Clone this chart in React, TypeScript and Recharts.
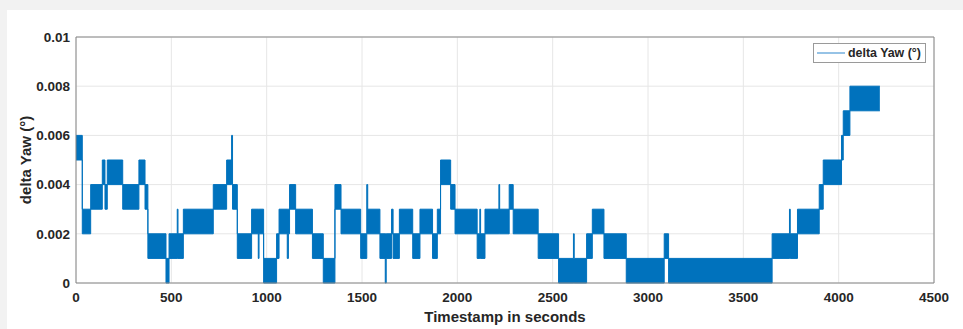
import React from 'react';
import {
  ComposedChart,
  Area,
  XAxis,
  YAxis,
  CartesianGrid,
  ReferenceLine,
} from 'recharts';

// Each segment: the signal toggles between a low and a high quantisation level
// from segStart until the next segStart. The last entry closes the trace.
const segStart = [
  0, 33, 77, 138, 152, 164, 245, 330, 362, 377,
  472, 488, 531, 535, 563, 720, 790, 816, 821, 846,
  921, 956, 960, 984, 1052, 1065, 1108, 1114, 1120, 1152,
  1240, 1297, 1358, 1390, 1493, 1525, 1530, 1594, 1622, 1627,
  1655, 1663, 1696, 1766, 1804, 1870, 1895, 1912, 1965, 1988,
  2104, 2118, 2122, 2145, 2218, 2222, 2272, 2293, 2424, 2531,
  2609, 2613, 2678, 2708, 2769, 2886, 3085, 3108, 3651, 3742,
  3746, 3784, 3898, 3919, 4015, 4024, 4059, 4216,
];
const segLow = [
  0.005, 0.002, 0.003, 0.004, 0.003, 0.004, 0.003, 0.004, 0.003, 0.001,
  0, 0.001, 0.001, 0.001, 0.002, 0.003, 0.004, 0.004, 0.003, 0.001,
  0.002, 0.001, 0.002, 0, 0.001, 0.002, 0.001, 0.002, 0.003, 0.002,
  0.001, 0, 0.003, 0.002, 0.001, 0.002, 0.002, 0.001, 0, 0.001,
  0.002, 0.001, 0.002, 0.001, 0.002, 0.001, 0.002, 0.004, 0.003, 0.002,
  0.001, 0.001, 0.001, 0.002, 0.002, 0.002, 0.003, 0.002, 0.001, 0,
  0, 0, 0.001, 0.002, 0.001, 0, 0.001, 0, 0.001, 0.001,
  0.001, 0.002, 0.003, 0.004, 0.005, 0.006, 0.007, 0.007,
];
const segHigh = [
  0.006, 0.003, 0.004, 0.005, 0.004, 0.005, 0.004, 0.005, 0.004, 0.002,
  0.001, 0.002, 0.003, 0.002, 0.003, 0.004, 0.005, 0.006, 0.004, 0.002,
  0.003, 0.003, 0.003, 0.001, 0.002, 0.003, 0.003, 0.003, 0.004, 0.003,
  0.002, 0.001, 0.004, 0.003, 0.002, 0.004, 0.003, 0.002, 0.002, 0.002,
  0.003, 0.002, 0.003, 0.002, 0.003, 0.002, 0.003, 0.005, 0.004, 0.003,
  0.002, 0.003, 0.002, 0.003, 0.004, 0.003, 0.004, 0.003, 0.002, 0.001,
  0.002, 0.001, 0.002, 0.003, 0.002, 0.001, 0.002, 0.001, 0.002, 0.003,
  0.002, 0.003, 0.004, 0.005, 0.006, 0.007, 0.008, 0.008,
];

const xTicks = [0, 500, 1000, 1500, 2000, 2500, 3000, 3500, 4000, 4500];
const yTicks = [0, 0.002, 0.004, 0.006, 0.008, 0.01];
const seriesName = 'delta Yaw (°)';
const xTitle = 'Timestamp in seconds';
const yTitle = 'delta Yaw (°)';

const data = segStart.map((t, i) => ({ t, range: [segLow[i], segHigh[i]] }));

const FONT = '"Liberation Sans", Arial, Helvetica, sans-serif';
const TEXT = '#262626';
const AXIS = '#868686';
const BLUE = '#0072BD';

const fmtY = (v: number) => String(Number(v.toFixed(3)));

const LegendBox = () => (
  <div
    style={{
      position: 'absolute',
      left: 813,
      top: 43,
      width: 111,
      height: 18,
      border: '1px solid #9a9a9a',
      background: '#fff',
      display: 'flex',
      alignItems: 'center',
      fontFamily: FONT,
      fontWeight: 700,
      fontSize: 12.4,
      color: TEXT,
    }}
  >
    <svg width={34} height={18} style={{ display: 'block' }}>
      <line x1={3} x2={31} y1={9} y2={9} stroke="#4f9bd6" strokeWidth={1.2} />
    </svg>
    <span style={{ whiteSpace: 'nowrap' }}>{seriesName}</span>
  </div>
);

export default function App() {
  return (
    <div style={{ position: 'fixed', left: 0, top: 0, width: 963, height: 329, background: '#f2f2f2' }}>
      <div style={{ position: 'absolute', left: 7, top: 10, width: 956, height: 319, background: '#ffffff' }} />
      <div style={{ position: 'absolute', left: 0, top: 0 }}>
        <ComposedChart
          width={963}
          height={329}
          data={data}
          margin={{ top: 37, right: 29, bottom: 16, left: 26 }}
        >
          <CartesianGrid stroke="#e6e6e6" strokeWidth={1} />
          <XAxis
            dataKey="t"
            type="number"
            domain={[0, 4500]}
            ticks={xTicks}
            height={30}
            tickSize={0}
            tickMargin={9}
            axisLine={{ stroke: AXIS, strokeWidth: 1 }}
            tick={{ fill: TEXT, fontFamily: FONT, fontWeight: 700, fontSize: 13.5 }}
            label={{
              content: (p: any) => {
                const vb = p.viewBox || {};
                return (
                  <text
                    x={vb.x + vb.width / 2}
                    y={vb.y + 39}
                    textAnchor="middle"
                    fill={TEXT}
                    fontFamily={FONT}
                    fontWeight={700}
                    fontSize={15}
                  >
                    {xTitle}
                  </text>
                );
              },
            }}
          />
          <YAxis
            type="number"
            domain={[0, 0.01]}
            ticks={yTicks}
            width={50}
            tickSize={0}
            tickMargin={6}
            tickFormatter={fmtY}
            axisLine={{ stroke: AXIS, strokeWidth: 1 }}
            tick={{ fill: TEXT, fontFamily: FONT, fontWeight: 700, fontSize: 13.5 }}
            label={{
              content: (p: any) => {
                const vb = p.viewBox || {};
                const cx = vb.x - 1;
                const cy = vb.y + vb.height / 2;
                return (
                  <text
                    x={cx}
                    y={cy}
                    transform={`rotate(-90 ${cx} ${cy})`}
                    textAnchor="middle"
                    dominantBaseline="central"
                    fill={TEXT}
                    fontFamily={FONT}
                    fontWeight={700}
                    fontSize={15}
                  >
                    {yTitle}
                  </text>
                );
              },
            }}
          />
          <ReferenceLine y={0.01} stroke={AXIS} strokeWidth={1} />
          <ReferenceLine x={4500} stroke={AXIS} strokeWidth={1} />
          <Area
            dataKey="range"
            name={seriesName}
            type="stepAfter"
            stroke={BLUE}
            strokeWidth={1}
            fill={BLUE}
            fillOpacity={1}
            isAnimationActive={false}
            dot={false}
            activeDot={false}
          />
        </ComposedChart>
      </div>
      <LegendBox />
    </div>
  );
}
